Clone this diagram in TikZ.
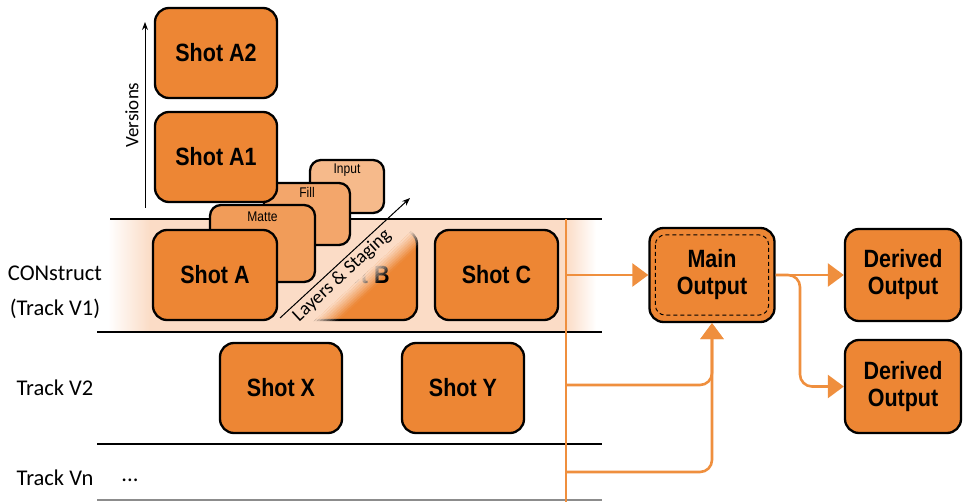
\documentclass[tikz,border=0pt]{standalone}
\usepackage{fontspec}
\setmainfont{Carlito}
\newfontfamily\boxfont[FakeStretch=0.86]{Liberation Sans}
\usetikzlibrary{arrows.meta,calc}
\definecolor{orgC}{HTML}{ED8634}
\definecolor{bandC}{HTML}{FBDCC6}
\definecolor{matteC}{HTML}{F19C59}
\definecolor{fillC}{HTML}{F3A66B}
\definecolor{inputC}{HTML}{F6BA8B}
\definecolor{lineC}{HTML}{EF8F3E}
\newcommand{\bandstrip}[3]{\fill[bandC, opacity=#3] ({355+(#1)*0.69-110.25},{275+(#1)*0.724+101.7}) -- ({355+(#1)*0.69+110.25},{275+(#1)*0.724-101.7}) -- ({355+(#2)*0.69+110.25},{275+(#2)*0.724-101.7}) -- ({355+(#2)*0.69-110.25},{275+(#2)*0.724+101.7}) -- cycle;}
\begin{document}
\begin{tikzpicture}[x=1pt,y=-1pt,
  shot/.style={draw=black, line width=2.3pt, fill=orgC, rounded corners=14pt,
    minimum width=#1, minimum height=90pt, inner sep=0pt,
    font=\boxfont\bfseries\fontsize{25}{27}\selectfont, align=center},
  shot/.default=122pt,
  layerbox/.style={draw=black, line width=2.3pt, rounded corners=11pt, inner sep=0pt},
  smalltxt/.style={font=\boxfont\fontsize{14}{16}\selectfont, inner sep=0pt},
  tracktxt/.style={font=\fontsize{22.5}{35}\selectfont, align=center, inner sep=0pt},
  trackline/.style={draw=black, line width=2.4pt},
  oline/.style={draw=lineC, line width=2.6pt},
  oarr/.style={oline, -{Triangle[length=16pt,width=23pt]}},
  thinarr/.style={draw=black, line width=1pt, -{Stealth[length=8pt,width=6pt]}}
]
\useasboundingbox (0,0) rectangle (963,502);

% band behind track V1
\fill[bandC] (149,220) rectangle (567,331);
\shade[left color=white, right color=bandC] (108,220) rectangle (150,331);
\shade[left color=bandC, right color=white] (566,220) rectangle (596,331);

% track lines
\draw[trackline] (110,219) -- (602,219);
\draw[trackline] (97,332) -- (602,332);
\draw[trackline] (97,444) -- (602,444);
\draw[line width=2pt, draw=black!45] (97,500) -- (602,500);

% faded shot B
\node[shot=124pt] (shotB) at (355,275) {Shot B};
\begin{scope}
  \clip (289,226) rectangle (421,324);
  \bandstrip{-200}{6}{1}
  \foreach \k in {0,...,7}{
    \pgfmathsetmacro\sa{6+2*\k}
    \pgfmathsetmacro\sb{\sa+2}
    \pgfmathsetmacro\op{1-(\k+0.5)/8}
    \bandstrip{\sa}{\sb}{\op}
  }
\end{scope}

% layers
\node[layerbox, fill=inputC, minimum width=74pt, minimum height=53pt] (input) at (347,186.5) {};
\node[smalltxt] (inputT) at ($(input.north)+(0,11)$) {Input};
\node[layerbox, fill=fillC, minimum width=86pt, minimum height=62pt] (fill) at (307,214) {};
\node[smalltxt] (fillT) at ($(fill.north)+(0,11)$) {Fill};
\node[layerbox, fill=matteC, minimum width=105pt, minimum height=77pt] (matte) at (262.5,243.5) {};
\node[smalltxt] (matteT) at ($(matte.north)+(0,13)$) {Matte};

% shots
\node[shot=124pt] (shotA) at (215,275) {Shot A};
\node[shot] (shotA1) at (216,157) {Shot A1};
\node[shot] (shotA2) at (216,53) {Shot A2};
\node[shot=123pt] (shotC) at (496.5,275) {Shot C};
\node[shot] (shotX) at (281,388) {Shot X};
\node[shot] (shotY) at (463,388) {Shot Y};

% versions
\coordinate (v0) at (145,208);
\coordinate (v1) at (145,22);
\draw[thinarr] (v0) -- (v1);
\node[rotate=90, font=\fontsize{19}{21}\selectfont, inner sep=0pt] (versT) at (132,115) {Versions};

% layers & staging
\coordinate (la0) at (280,318);
\coordinate (la1) at (410,198);
\draw[thinarr] (la0) -- (la1) node[pos=0.42, sloped, below, inner sep=2.5pt, font=\fontsize{19}{21}\selectfont] (layT) {Layers \& Staging};

% track labels
\node[tracktxt] (t1) at (55,292) {CONstruct\\(Track V1)};
\node[tracktxt] (t2) at (55,388) {Track V2};
\node[tracktxt] (tn) at (55,478) {Track Vn};
\node[tracktxt] (dots) at (130,480) {...};

% outputs
\node[shot=125pt, minimum height=94pt] (main) at (712,275) {Main\\Output};
\draw[black, line width=1pt, dash pattern=on 4pt off 3pt, rounded corners=10pt] ([shift={(7,8)}]main.north west) rectangle ([shift={(-7,-8)}]main.south east);
\node[shot=116pt, minimum height=92pt] (d1) at (903,275) {Derived\\Output};
\node[shot=116pt, minimum height=93pt] (d2) at (903,386.5) {Derived\\Output};

% bus and connectors
\coordinate (busTop) at (566,219);
\coordinate (busBot) at (566,502);
\coordinate (b1) at (566,275);
\coordinate (b2) at (566,385);
\coordinate (b3) at (566,472);
\coordinate (br) at (800,275);
\draw[oline] (busTop) -- (busBot);
\draw[oarr] (b1) -- (main.west);
\draw[oarr, rounded corners=12pt] (b3) -| (main.south);
\draw[oarr, rounded corners=12pt] (b2) -| (main.south);
\draw[oarr] (main.east) -- (d1.west);
\draw[oarr, rounded corners=12pt] (main.east) -- (br) |- (d2.west);
\end{tikzpicture}
\end{document}
